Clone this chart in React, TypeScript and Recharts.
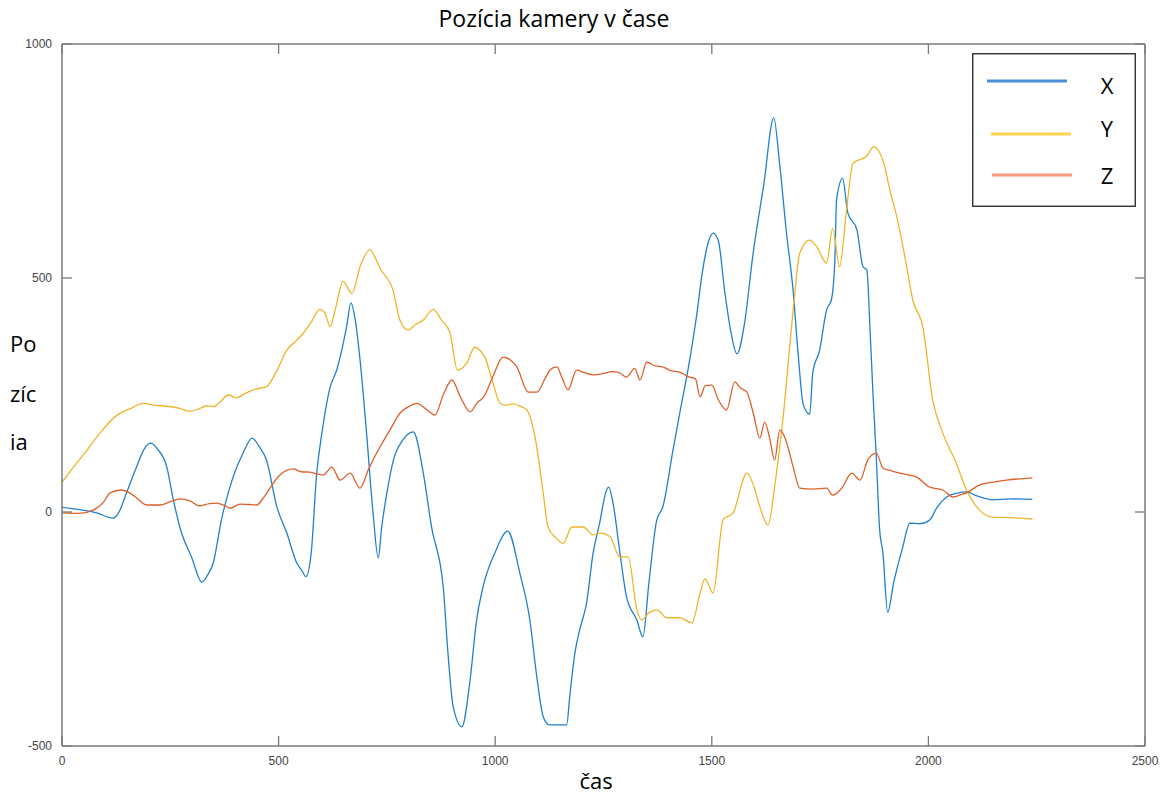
import React from 'react';
import { LineChart, Line, XAxis, YAxis, Legend } from 'recharts';

// ---- data ----
const xTimes = [0, 40, 80, 118, 130, 149, 172, 190, 205, 220, 242, 257, 276, 299, 323, 336, 349, 368, 395, 418, 439, 455, 472, 496, 519, 542, 553, 563, 575, 588, 600, 619, 634, 657, 667, 677, 688, 703, 718, 730, 738, 750, 765, 787, 811, 834, 853, 880, 891, 903, 923, 942, 957, 972, 999, 1029, 1057, 1080, 1096, 1111, 1125, 1145, 1165, 1172, 1184, 1195, 1211, 1226, 1241, 1257, 1262, 1272, 1288, 1303, 1327, 1341, 1355, 1373, 1387, 1410, 1426, 1449, 1465, 1477, 1490, 1503, 1515, 1530, 1545, 1558, 1575, 1595, 1620, 1643, 1657, 1672, 1688, 1700, 1711, 1726, 1733, 1749, 1765, 1776, 1784, 1788, 1802, 1814, 1835, 1849, 1858, 1865, 1872, 1880, 1887, 1895, 1906, 1920, 1941, 1957, 1980, 2003, 2020, 2042, 2065, 2088, 2110, 2149, 2190, 2240];
const xValues = [10, 5, -2, -13, -3, 41, 96, 135, 147, 135, 96, 26, -45, -96, -150, -135, -109, -17, 75, 126, 158, 140, 111, 11, -45, -109, -124, -138, -90, 83, 169, 267, 303, 396, 447, 410, 325, 169, -2, -98, -32, 41, 111, 154, 171, 83, -32, -160, -302, -416, -459, -359, -231, -160, -88, -41, -131, -231, -352, -438, -455, -455, -455, -395, -301, -252, -194, -88, -24, 47, 53, 19, -88, -181, -231, -267, -150, -17, 11, 130, 211, 325, 420, 505, 570, 596, 580, 470, 380, 338, 400, 550, 700, 842, 740, 600, 470, 330, 230, 209, 297, 346, 432, 453, 538, 667, 713, 639, 603, 524, 517, 396, 254, 111, -32, -88, -214, -150, -74, -24, -25, -17, 10, 32, 40, 43, 35, 26, 28, 27];

const yTimes = [0, 30, 60, 88, 127, 160, 187, 215, 242, 270, 295, 315, 334, 349, 365, 384, 403, 420, 441, 472, 495, 519, 540, 557, 575, 595, 607, 619, 630, 649, 669, 690, 711, 722, 734, 764, 780, 799, 815, 834, 857, 876, 895, 913, 934, 953, 965, 976, 995, 1011, 1025, 1041, 1060, 1073, 1092, 1111, 1122, 1140, 1157, 1177, 1203, 1226, 1245, 1265, 1288, 1307, 1327, 1338, 1355, 1373, 1396, 1426, 1454, 1473, 1484, 1503, 1526, 1549, 1581, 1597, 1611, 1630, 1645, 1664, 1688, 1703, 1726, 1742, 1765, 1779, 1795, 1811, 1826, 1857, 1874, 1899, 1911, 1927, 1950, 1964, 1987, 2010, 2033, 2064, 2088, 2118, 2149, 2190, 2240];
const yValues = [64, 100, 135, 169, 207, 222, 232, 228, 226, 222, 215, 220, 227, 225, 235, 250, 244, 252, 261, 268, 300, 346, 365, 382, 405, 433, 425, 396, 430, 493, 467, 530, 560, 545, 521, 474, 410, 389, 400, 410, 433, 410, 385, 303, 318, 352, 345, 331, 275, 233, 228, 231, 225, 218, 160, 40, -32, -55, -67, -32, -32, -49, -45, -53, -96, -96, -209, -231, -215, -209, -226, -226, -237, -173, -143, -173, -17, -2, 83, 55, 11, -28, 54, 197, 432, 553, 581, 567, 532, 606, 524, 645, 745, 760, 780, 738, 688, 631, 524, 453, 396, 239, 169, 105, 47, 4, -11, -12, -15];

const zTimes = [0, 40, 72, 95, 111, 138, 164, 196, 226, 250, 272, 295, 318, 340, 357, 375, 388, 411, 430, 449, 465, 480, 503, 534, 552, 572, 603, 623, 642, 665, 688, 707, 720, 734, 757, 780, 800, 819, 840, 861, 880, 900, 920, 942, 960, 972, 995, 1018, 1035, 1050, 1076, 1096, 1115, 1126, 1142, 1155, 1168, 1188, 1205, 1226, 1250, 1270, 1288, 1303, 1322, 1334, 1350, 1370, 1387, 1405, 1426, 1449, 1462, 1473, 1485, 1500, 1515, 1534, 1553, 1566, 1581, 1596, 1611, 1622, 1633, 1645, 1657, 1668, 1688, 1703, 1733, 1765, 1779, 1800, 1823, 1842, 1860, 1880, 1895, 1915, 1934, 1950, 1972, 2003, 2033, 2057, 2075, 2088, 2118, 2150, 2180, 2240];
const zValues = [-2, -3, 4, 20, 41, 47, 36, 15, 15, 22, 28, 24, 13, 18, 19, 14, 8, 17, 16, 15, 30, 51, 79, 92, 86, 85, 79, 96, 68, 83, 51, 90, 115, 139, 175, 211, 225, 232, 220, 207, 250, 282, 245, 214, 235, 244, 290, 331, 325, 310, 256, 256, 285, 303, 310, 285, 261, 303, 298, 293, 296, 300, 297, 288, 307, 282, 320, 312, 310, 302, 299, 288, 285, 246, 270, 271, 240, 218, 278, 265, 256, 210, 158, 192, 160, 111, 175, 161, 96, 51, 49, 51, 36, 51, 83, 68, 111, 126, 94, 88, 83, 80, 75, 53, 47, 32, 37, 41, 58, 64, 68, 73];

const xTicks = [0, 500, 1000, 1500, 2000, 2500];
const yTicks = [-500, 0, 500, 1000];
const seriesNames = ['X', 'Y', 'Z'];

const toData = (ts: number[], vs: number[]) => ts.map((t, i) => ({ t, v: vs[i] }));
const dataX = toData(xTimes, xValues);
const dataY = toData(yTimes, yValues);
const dataZ = toData(zTimes, zValues);

const lineColors = ['#1f80cf', '#efb52a', '#df5f29'];
const legendColors = ['#4a90d9', '#ffd250', '#f5987b'];

const AXIS = '#7a7a7a';
const TM = 10; // tick margin
const TL = 10; // inward tick length
const tickFont = { fontFamily: '"Liberation Sans", Arial, sans-serif', fontSize: 12, fill: '#444' };

const BottomTick = (p: any) => {
  const ay = p.y - TM;
  return (
    <g>
      <line x1={p.x} x2={p.x} y1={ay} y2={ay - TL} stroke={AXIS} strokeWidth={1.3} />
      <text x={p.x} y={p.y} dy="0.71em" textAnchor="middle" {...tickFont}>{p.payload.value}</text>
    </g>
  );
};
const TopTick = (p: any) => {
  const ay = p.y + TM;
  return <line x1={p.x} x2={p.x} y1={ay} y2={ay + TL} stroke={AXIS} strokeWidth={1.3} />;
};
const LeftTick = (p: any) => {
  const ax = p.x + TM;
  return (
    <g>
      <line x1={ax} x2={ax + TL} y1={p.y} y2={p.y} stroke={AXIS} strokeWidth={1.3} />
      <text x={p.x} y={p.y} dy="0.355em" textAnchor="end" {...tickFont}>{p.payload.value}</text>
    </g>
  );
};
const RightTick = (p: any) => {
  const ax = p.x - TM;
  return <line x1={ax} x2={ax - TL} y1={p.y} y2={p.y} stroke={AXIS} strokeWidth={1.3} />;
};

const labelFont = '"Open Sans", "Noto Sans", sans-serif';

const LegendBox = () => (
  <svg width={164} height={154} style={{ display: 'block' }}>
    <rect x={0.75} y={0.75} width={162.5} height={152.5} fill="#fff" stroke="#222" strokeWidth={1.3} />
    {seriesNames.map((n, i) => {
      const ly = [28, 81, 122][i];
      const lx = [15, 19, 20][i];
      const ty = [41, 84, 131][i];
      return (
        <g key={n}>
          <line x1={lx} x2={lx + 80} y1={ly} y2={ly} stroke={legendColors[i]} strokeWidth={3} />
          <text x={135} y={ty} textAnchor="middle" fontFamily={labelFont} fontSize={22} fill="#000">{n}</text>
        </g>
      );
    })}
  </svg>
);

export default function App() {
  return (
    <div style={{ position: 'absolute', left: 0, top: 0, width: 1165, height: 794, background: '#fff' }}>
      <LineChart width={1165} height={794} margin={{ top: 34, right: 10, bottom: 18, left: 0 }}>
        <XAxis dataKey="t" type="number" domain={[0, 2500]} ticks={xTicks} allowDataOverflow
          height={30} tickSize={0} tickMargin={TM} tickLine={false}
          axisLine={{ stroke: AXIS, strokeWidth: 1.5 }} tick={<BottomTick />} interval={0} />
        <XAxis xAxisId="top" orientation="top" dataKey="t" type="number" domain={[0, 2500]} ticks={xTicks} allowDataOverflow
          height={10} tickSize={0} tickMargin={TM} tickLine={false}
          axisLine={{ stroke: AXIS, strokeWidth: 1.5 }} tick={<TopTick />} interval={0} />
        <YAxis type="number" domain={[-500, 1000]} ticks={yTicks} allowDataOverflow
          width={62} tickSize={0} tickMargin={TM} tickLine={false}
          axisLine={{ stroke: AXIS, strokeWidth: 1.5 }} tick={<LeftTick />} interval={0} />
        <YAxis yAxisId="r" orientation="right" type="number" domain={[-500, 1000]} ticks={yTicks} allowDataOverflow
          width={10} tickSize={0} tickMargin={TM} tickLine={false}
          axisLine={{ stroke: AXIS, strokeWidth: 1.5 }} tick={<RightTick />} interval={0} />
        <Line type="monotone" data={dataX} dataKey="v" name="X" stroke={lineColors[0]} strokeWidth={1.3} dot={false} isAnimationActive={false} />
        <Line type="monotone" data={dataY} dataKey="v" name="Y" stroke={lineColors[1]} strokeWidth={1.3} dot={false} isAnimationActive={false} />
        <Line type="monotone" data={dataZ} dataKey="v" name="Z" stroke={lineColors[2]} strokeWidth={1.3} dot={false} isAnimationActive={false} />
        <Legend layout="horizontal" verticalAlign="middle" align="center"
          wrapperStyle={{ left: 972, top: 53, width: 164, height: 154 }} content={() => <LegendBox />} />
      </LineChart>
      <svg width={1165} height={794} style={{ position: 'absolute', left: 0, top: 0, pointerEvents: 'none' }}>
        <text x={554} y={27} textAnchor="middle" fontFamily={labelFont} fontSize={23} fill="#000">Pozícia kamery v čase</text>
        <text x={10} y={352} fontFamily={labelFont} fontSize={22} fill="#000">Po</text>
        <text x={10} y={402} fontFamily={labelFont} fontSize={22} fill="#000">zíc</text>
        <text x={10} y={450} fontFamily={labelFont} fontSize={22} fill="#000">ia</text>
        <text x={596} y={789} textAnchor="middle" fontFamily={labelFont} fontSize={22} fill="#000">čas</text>
      </svg>
    </div>
  );
}
